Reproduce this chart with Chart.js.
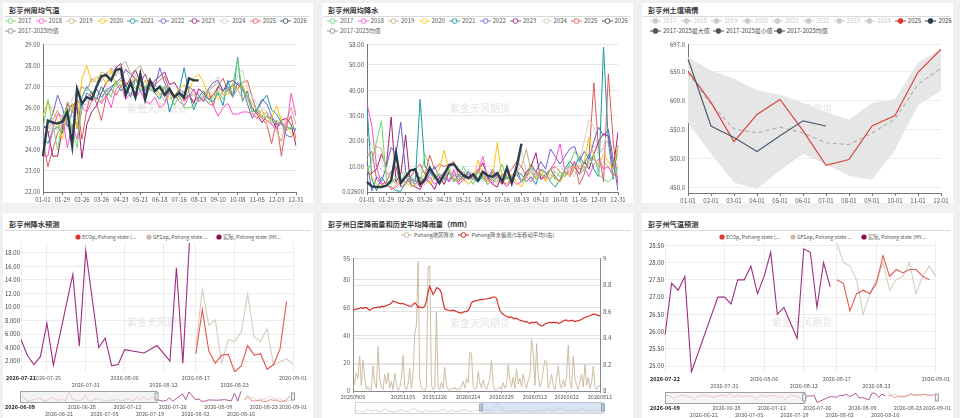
<!DOCTYPE html>
<html>
<head>
<meta charset="utf-8">
<script src="https://cdn.jsdelivr.net/npm/chart.js@4.4.1/dist/chart.umd.min.js"></script>
<style>
  body { margin: 0; width: 960px; height: 418px; background: #f0f0f0; position: relative; overflow: hidden;
         font-family: "Noto Sans CJK SC", "Noto Sans", sans-serif; }
  .panel { position: absolute; background: #fff; }
  .title { position: absolute; font-size: 7.2px; font-weight: bold; color: #333; white-space: nowrap; line-height: 9px; }
  .rule { position: absolute; height: 1px; background: #d9d9d9; }
  .lg { position: absolute; font-size: 6px; color: #555; white-space: nowrap; line-height: 8px; height: 8px; }
  .lg svg { position: absolute; left: 0; top: 0; }
  .lg span { position: absolute; top: 0; }
  canvas { position: absolute; }
</style>
</head>
<body>
<script>
'use strict';

// ---------- data ----------
var years = ['2017', '2018', '2019', '2020', '2021', '2022', '2023', '2024', '2025', '2026'];
var weekTicks = ['01-01', '01-29', '02-26', '03-26', '04-23', '05-21', '06-18', '07-16', '08-13', '09-10', '10-08', '11-05', '12-03', '12-31'];

// weekly mean temperature, 53 weeks
var t2017 = [25.0,26.4,25.2,24.0,25.5,26.0,25.0,24.1,26.2,26.5, 26.8,26.4,26.3,26.9,26.5,27.3,27.0,26.8,27.2,26.9, 27.3,27.0,27.2,26.8,26.9,27.0,26.7,26.1,26.6,26.0, 26.0,26.1,26.4,26.6,26.2,26.5,26.8,26.4,26.9,27.1, 28.3,26.8,26.5,25.8,26.0,25.5,25.6,25.3,25.4,25.2, 24.9,25.1,25.0];
var t2018 = [23.7,23.7,25.0,25.7,25.6,24.1,25.2,24.5,26.0,25.8, 26.3,26.5,26.2,26.6,26.0,26.9,27.1,26.4,26.7,26.5, 26.8,26.3,26.2,26.5,26.0,26.2,26.8,26.6,26.3,26.1, 26.5,26.9,26.3,26.5,26.2,26.1,25.6,26.0,26.2,25.7, 25.7,25.8,25.8,25.7,25.5,25.6,25.4,25.2,25.0,25.3, 24.9,26.7,25.6];
var t2019 = [24.6,25.0,25.4,25.9,25.2,26.3,25.8,26.5,27.0,26.8, 27.4,27.2,27.7,27.6,27.9,27.5,28.0,28.2,27.6,27.8, 28.0,27.5,27.2,26.9,26.7,26.3,26.9,26.6,26.4,26.8, 26.5,26.7,26.3,26.5,26.8,27.0,27.2,26.6,26.8,26.5, 26.9,26.4,26.6,26.2,25.9,25.6,25.8,25.2,24.9,24.4, 25.4,26.0,25.2];
var t2020 = [25.6,26.3,25.8,25.4,24.5,25.9,26.2,25.0,27.4,28.0, 27.2,27.4,27.6,27.1,27.8,27.0,27.3,26.8,27.2,27.4, 26.9,27.3,27.0,26.8,26.6,27.0,26.4,26.6,26.9,27.1, 26.8,27.4,27.6,27.2,26.5,26.7,26.4,26.8,26.6,27.0, 26.9,27.1,26.5,25.8,25.5,25.9,25.3,25.5,26.1,25.4, 25.2,24.8,24.5];
var t2021 = [24.6,24.3,24.9,25.1,24.8,25.6,26.2,25.0,26.5,27.0, 26.7,26.4,27.0,26.6,26.9,27.2,26.8,27.1,26.5,27.4, 26.8,27.0,26.9,26.7,26.4,27.0,25.8,26.5,26.8,27.9, 26.7,25.9,26.5,26.8,26.4,26.3,26.7,26.1,27.3,26.5, 28.4,26.3,26.8,25.8,25.9,26.3,26.6,25.9,25.7,25.3, 25.1,25.0,25.0];
var t2022 = [25.0,25.2,25.7,26.6,26.0,25.1,25.8,26.4,26.0,26.7, 26.5,26.9,26.5,26.8,27.0,27.2,27.4,27.8,27.6,27.4, 27.1,26.8,27.3,27.0,27.9,27.2,26.7,26.5,26.9,26.7, 27.0,26.8,26.6,26.3,26.9,27.2,27.3,26.8,27.0,26.5, 27.2,27.0,26.2,25.5,25.9,26.4,26.2,25.6,25.2,25.3, 24.7,24.6,25.0];
var t2023 = [25.2,24.9,23.7,23.7,25.0,26.2,25.8,26.0,23.6,25.2, 25.8,26.1,26.7,27.2,27.4,27.9,28.1,27.0,27.4,27.8, 27.2,27.6,27.0,27.3,27.5,27.7,27.1,27.2,26.8,26.4, 26.6,26.2,26.9,26.7,26.4,26.6,27.0,26.8,27.2,27.3, 27.1,26.9,26.5,26.0,25.7,25.3,25.6,25.5,25.0,25.4, 25.5,25.2,24.2];
var t2024 = [24.5,24.7,25.3,24.9,25.6,26.1,26.4,26.8,27.0,26.9, 27.3,27.5,27.2,27.7,27.6,28.0,27.5,27.9,27.2,27.6, 27.0,27.3,26.8,26.9,26.5,26.7,26.9,26.6,26.8,26.4, 26.9,26.5,26.7,26.6,26.9,27.0,27.5,26.8,27.0,26.7, 27.6,27.8,26.9,26.5,26.2,26.0,25.8,25.5,25.0,25.6, 25.3,25.7,25.9];
var t2025 = [24.4,23.2,24.0,24.8,25.1,25.9,26.1,26.3,24.5,25.9, 26.8,26.2,25.4,26.5,26.9,26.6,27.0,27.2,27.0,27.4, 27.1,26.9,27.3,27.1,27.3,27.5,26.8,26.5,26.8,26.3, 26.6,26.3,26.5,26.3,26.8,26.1,27.0,27.4,26.8,27.1, 26.9,27.2,27.3,26.5,25.8,25.5,25.2,24.3,25.4,23.7, 25.2,25.6,24.5];
var t2026 = [23.7,25.4,25.3,25.25,25.35,25.8,24.2,26.9,26.2,26.5, 26.4,27.0,27.5,27.55,27.3,27.8,27.85,26.6,27.2,26.5, 27.6,26.4,27.3,26.8,27.0,26.6,26.9,26.5,26.7,26.5, 27.4,27.3,27.3];
var tAvg  = [24.6,24.8,25.0,25.1,25.2,25.5,25.6,25.4,25.9,26.3, 26.5,26.6,26.7,26.9,27.0,27.2,27.3,27.2,27.2,27.3, 27.2,27.1,27.0,26.9,26.9,26.9,26.7,26.6,26.7,26.6, 26.6,26.6,26.6,26.5,26.6,26.6,26.9,26.7,26.9,26.7, 27.2,26.8,26.6,26.0,25.9,25.8,25.7,25.4,25.3,25.2, 25.1,25.2,25.0];

// weekly mean precipitation, 53 weeks
var p2017 = [8,12,20,28,5,3,6,4,8,3, 5,4,15,10,6,7,5,9,4,6, 10,6,3,8,5,7,4,6,11,5, 6,8,4,7,10,5,7,6,9,5, 8,6,11,16,13,8,12,15,7,5, 4,6,9];
var p2018 = [35,26,10,3,4,1,2,4,6,3, 5,2,4,6,3,5,8,4,9,3, 5,7,6,8,14,5,3,7,4,2, 5,3,4,6,4,8,5,6,9,12, 19,8,7,12,9,10,6,11,13,9, 10,7,6];
var p2019 = [15,13,18,17,8,6,3,5,4,6, 2,4,3,5,7,4,6,5,8,6, 4,7,5,9,6,3,5,4,7,6, 5,8,10,17,8,6,9,7,5,8, 6,9,10,8,7,9,11,13,10,12, 10,6,10];
var p2020 = [10,6,3,2,4,1,3,5,4,2, 3,5,7,3,6,9,16.5,8,5,4, 6,3,5,12.5,7,4,6,19.5,5,3, 7,4,2,6,8,5,9,4,7,5, 4,8,6,10,9,12,21.5,14,10,15, 12,9,18];
var p2021 = [33.5,5,0.5,6,3,2,0.5,0.3,4,6, 4,36.5,10,8,5,7,6,4,7,5, 6,8,5,4,6,3,5,7,4,6, 5,8,7,4,6,3,9,8,4,2, 5,9,12,10,14,11,15,9,6,57, 20,5,18.5];
var p2022 = [12,0.5,6,4,10,17.5,15,27.5,8,5, 3,6,4,7,10,6,5,8,4,7, 5,8,6,4,7,5,9,6,4,3, 5,7,4,6,10,8,12,9,17,14, 11,14,17,18,12,16,13,20,25.5,22, 24.5,13,0.5];
var p2023 = [7,7.5,9,15,10,29.5,4,7,22.5,3, 2,1,5,4,1,6,3,8,5,4, 7,6,5,8,11.5,6,3,2,7,5, 6,9,4,8,10,15.5,5,7,9,6, 4,8,6,10,7,12,9,15,20,23, 22,9,23.5];
var p2024 = [22,18,15,12,8,5,4,3,6,5, 8,4,6,9,5,7,4,10,6,3, 5,9,7,6,4,8,5,3,6,9, 4,7,16.5,8,5,6,9,7,5,10, 8,7,9,6,12,20,28.5,26,15,18, 25,9,15];
var p2025 = [14,16,5,3,4,8,10,2,3,6, 9,11,7,14.5,9,11,10,11,12,6, 8,5,7,9,6,4,8,5,3,7, 9,12,10,6,11,8,7,5,9,10, 8,6,9,12,3,7,14,43,16,4, 46.5,20,3];
var p2026 = [4.0,2.2,2.0,2.0,2.5,4.5,15.5,3.5,6.0,8.5, 9.0,3.0,5.0,9.5,6.5,3.5,7.0,10.5,11.0,8.5, 6.5,5.5,7.0,4.5,8.0,6.5,6.0,7.5,4.0,9.5, 3.5,10.0,19.0];
var pAvg  = [17,14,10,9,7,8,6,7,8,5, 5,9,7,8,6,7,7,7,6,5, 6,6,6,8,7,5,5,7,6,5, 7,7,7,8,7,7,7,6,9,8, 9,9,10,11,10,12,14,18,15,17, 20,10,11];
var precipTicks = [0.026, 10, 20, 30, 40, 50, 58];

// soil moisture, monthly
var monthLabels = ['01-01', '02-01', '03-01', '04-01', '05-01', '06-01', '07-01', '08-01', '09-01', '10-01', '11-01', '12-01'];
var soil2025 = [651, 597, 529, 576, 602, 548, 488, 498, 556, 574, 649, 689];
var soil2026 = [672, 556, 536, 512, 539, 565, 556];
var soilMax  = [675, 652, 638, 618, 610, 596, 580, 567, 596, 603, 666, 690];
var soilMin  = [562, 508, 458, 447, 479, 508, 490, 470, 463, 514, 592, 618];
var soilAvg  = [648, 594, 551, 544, 554, 544, 527, 524, 544, 568, 628, 656];
var soilTicks = [450, 500, 550, 600, 650, 697];

// rain forecast: day 0 = 2026-07-21
var rainActual = [5.2, 2.8, 1.5, 2.7, 7.6, 1.4, null, null, 14.8, 4.2, 18.3, null, 4.0, 5.4, 1.3, 1.5, 3.7, null, null, 3.2, null, 4.3, null, 2.0, 15.8, 1.7, 19.5];
var rainEco = [3.1, 9.6, 3.5, 1.7, 2.9, 3.0, 0.4, 1.3, 4.3, 2.9, 3.1, 0.8, 1.5, 3.8, 10.8];   // from day 27
var rainGfs = [4.2, 12.6, 7.3, 8.1, 1.7, 5.2, 4.9, 6.3, 11.9, 5.6, 4.9, 6.8, 1.4, 1.9, 2.4, 1.5]; // from day 27
var rainEarly = [14, 8, 3, 2, 4, 5, 7, 3, 2, 6, 8, 4, 3, 5, 2, 19, 6, 3, 2, 4, 12, 3, 2, 5, 6, 4, 3, 2, 4, 3, 5, 2, 3, 6, 4, 2, 9, 3, 10, 4, 6, 8]; // 2026-06-09 .. 07-20
var rainTickDays = [0, 4, 10, 16, 22, 27, 33, 42];
var rainTickText = ['2026-07-21', '2026-07-25', '2026-07-31', '2026-08-06', '2026-08-12', '2026-08-17', '2026-08-23', '2026-09-01'];
var rainTickRow = [0, 0, 1, 0, 1, 0, 1, 0];
var rainYTicks = [2, 4, 6, 8, 10, 12, 14, 16, 18];

// temperature forecast: day 0 = 2026-07-22
var tempActual = [25.9, 27.4, 27.2, 27.6, 24.83, null, null, null, 27.0, 27.0, 26.8, 27.5, 27.5, 27.9, 27.1, 27.6, 28.3, 26.5, 26.7, null, 25.8, 28.4, 28.3, 26.7, 28.0, 27.3];
var tempEco = [27.5, 27.4, 26.6, 27.1, 27.2, 27.1, 27.4, 28.2, 27.6, 27.8, 27.7, 27.8, 27.8, 27.6, 27.5];          // from day 26
var tempGfs = [28.58, 28.0, 27.9, 27.5, 26.5, 27.1, 27.5, 28.0, 27.2, 27.5, 27.6, 28.0, 27.1, 27.6, 27.9, 27.6];  // from day 26
var tempEarly = [27.6, 27.4, 27.0, 26.2, 27.2, 27.5, 27.6, 26.9, 27.1, 25.8, 27.0, 27.3, 27.4, 27.2, 27.1, 26.8, 27.2, 27.5, 27.6, 27.0, 28.2, 26.8, 27.3, 27.4, 27.0, 27.2, 27.3, 27.1, 26.0, 27.2, 27.4, 27.0, 27.3, 27.5, 27.2, 26.9, 27.4, 25.8, 27.1, 27.6, 27.3, 27.0, 26.5]; // 06-09 .. 07-21
var tempTickDays = [0, 9, 15, 21, 26, 32, 41];
var tempTickText = ['2026-07-22', '2026-07-31', '2026-08-06', '2026-08-12', '2026-08-17', '2026-08-23', '2026-09-01'];
var tempTickRow = [0, 1, 0, 1, 0, 1, 0];
var tempYTicks = [25, 25.5, 26, 26.5, 27, 27.5, 28, 28.5];

// slider overview: day 0 = 2026-06-09
var sliderTickDays = [0, 12, 19, 26, 33, 40, 47, 54, 61, 68, 75, 84];
var sliderTickText = ['2026-06-09', '2026-06-21', '2026-06-28', '2026-07-05', '2026-07-12', '2026-07-19', '2026-07-26', '2026-08-02', '2026-08-09', '2026-08-16', '2026-08-23', '2026-09-01'];
var sliderTickRow = [0, 1, 0, 1, 0, 1, 0, 1, 0, 1, 0, 0];

// daily rain (left) and 5y moving average deviation (right)
var dailyTickAt = [0, 30, 49, 69, 89, 109, 128, 148];
var dailyTickText = ['20250905', '20251105', '20251226', '20260214', '20260329', '20260512', '20260622', '20260811'];
var pahangRain = [2,6,13,9,25,4,22,10,1,3, 0.5,1,18,6,2,32,8,3,1,12, 5,13,2,7,1,13,4,0.5,2,9, 25.5,3,1,5,16,2,12,41,47,93, 8,2,1,0.5,3,89,90,4,1,2, 57,3,1,6,2,17,4,1,0.5,2, 1,3,0.5,2,1,4,7,2,9,6, 28,27,3,1,2,14,6,2,8,3, 1,5,9,22,4,1,0.5,2,3,1, 6,2,4,19,8,3,10,2,16,5, 9,3,12,6,2,8,11,37,27,4, 34,10,3,7,15,22,21,2,6,12, 4,1,9,18,5,2,8,3,11,33, 6,2,25,9,4,1,7,12,3,19, 4,10,2,6,18,3,1,4,3];
var pahangDev = [8.61,8.615,8.62,8.62,8.625,8.63,8.625,8.63,8.63,8.62, 8.61,8.62,8.625,8.63,8.63,8.635,8.63,8.64,8.635,8.64, 8.645,8.65,8.655,8.665,8.68,8.675,8.67,8.665,8.66,8.66, 8.66,8.655,8.65,8.645,8.64,8.64,8.65,8.665,8.655,8.63, 8.635,8.63,8.63,8.64,8.68,8.75,8.79,8.76,8.73,8.75, 8.78,8.775,8.765,8.74,8.67,8.62,8.615,8.61,8.61,8.605, 8.61,8.605,8.60,8.595,8.59,8.59,8.595,8.60,8.60,8.61, 8.63,8.665,8.675,8.68,8.68,8.685,8.69,8.69,8.69,8.695, 8.695,8.70,8.70,8.705,8.71,8.71,8.70,8.65,8.61,8.59, 8.58,8.57,8.565,8.56,8.555,8.56,8.55,8.545,8.55,8.54, 8.535,8.53,8.53,8.52,8.525,8.515,8.51,8.52,8.515,8.52, 8.52,8.505,8.50,8.49,8.495,8.505,8.51,8.515,8.52,8.515, 8.52,8.515,8.52,8.51,8.515,8.52,8.53,8.535,8.535,8.53, 8.53,8.535,8.53,8.525,8.53,8.53,8.535,8.54,8.55,8.555, 8.56,8.565,8.57,8.575,8.58,8.58,8.575,8.57,8.57];
var dailyLeftTicks = [0, 20, 40, 60, 80, 95];
var dailyRightTicks = [8, 8.2, 8.4, 8.6, 8.8, 9];
var rainOverview = [3,5,2,8,4,6,3,9,5,2,4,7,3,5,10,4,2,6,3,5,4,8,2,6,3,5,7,4,3,6, 5,8,4,12,20,6,3,4,5,3,6,4,3,5,7,4,9,5,8,12,6,4,7,5,9,6,4,8,5,6];

// ---------- look ----------
var yearColors = ['#72d86a', '#ff4fc8', '#c4ae86', '#ffc20e', '#1d97a3', '#6c5fcf', '#a0206e', '#d9d0c2', '#e05a5a', '#2b3d4f'];
var legendColors = ['#86e086', '#ff70d2', '#cbb992', '#ffcc40', '#3aa3b0', '#8076d8', '#a9428c', '#ddd4c6', '#e87070', '#55616d'];
var fcColors = { eco: '#e3574f', gfs: '#d8cbbd', act: '#9e2d80', ecoDot: '#d9372f', gfsDot: '#cdbba8', actDot: '#8a0b55' };
var WM = '紫金天风期货';

Chart.defaults.font.family = '"Noto Sans CJK SC", "Noto Sans", sans-serif';
Chart.defaults.font.size = 6;
Chart.defaults.color = '#555';
Chart.defaults.animation = false;
Chart.defaults.responsive = false;
Chart.defaults.plugins.legend.display = false;
Chart.defaults.plugins.tooltip.enabled = false;
Chart.defaults.elements.point.radius = 0;
Chart.defaults.elements.line.borderWidth = 1;
Chart.defaults.elements.line.tension = 0;

// ---------- helpers ----------
function el(tag, cls, css) {
    var e = document.createElement(tag);
    if (cls) e.className = cls;
    for (var k in css) e.style[k] = css[k];
    document.body.appendChild(e);
    return e;
}

function canvas(left, top, w, h) {
    var c = el('canvas', '', { left: left + 'px', top: top + 'px' });
    c.width = w;
    c.height = h;
    return c;
}

function legendItem(x, yc, text, color, kind, opt) {
    opt = opt || {};
    var d = el('div', 'lg', { left: x + 'px', top: (yc - 4) + 'px', fontSize: (opt.size || 6) + 'px' });
    var iw = kind === 'circle' ? 6 : 11;
    var svg = '<svg width="' + iw + '" height="8" viewBox="0 0 ' + iw + ' 8">';
    if (kind === 'circle') {
        svg += '<circle cx="3" cy="4" r="2.6" fill="' + color + '"/>';
    } else {
        svg += '<line x1="0" y1="4" x2="11" y2="4" stroke="' + color + '" stroke-width="1"/>' +
            '<circle cx="5.5" cy="4" r="2.4" fill="' + (kind === 'dot' ? color : '#fff') + '" stroke="' + color + '" stroke-width="1"/>';
    }
    svg += '</svg>';
    d.innerHTML = svg + '<span style="left:' + (iw + (opt.gap || 2)) + 'px;color:' + (opt.textColor || '#555') + '">' + text + '</span>';
}

function place(values, start, len) {   // put a series at its day offset
    var out = [];
    for (var i = 0; i < len; i++) {
        var k = i - start;
        out.push(k >= 0 && k < values.length ? values[k] : null);
    }
    return out;
}

function indexLabels(n) {
    var out = [];
    for (var i = 0; i < n; i++) out.push(i);
    return out;
}

function fixedTicks(list) {
    return function (s) { s.ticks = list.map(function (v) { return { value: v }; }); };
}

function dateTicks(days, texts, rows) {
    return function (v, i) {
        var k = days.indexOf(i);
        if (k < 0) return null;
        return rows[k] ? ['', texts[k]] : texts[k];
    };
}

function endsFont(size, last) {
    return function (c) {
        return { size: size, weight: (c.index === 0 || c.index === last) ? 'bold' : 'normal' };
    };
}

function endsColor(last) {
    return function (c) { return (c.index === 0 || c.index === last) ? '#222' : '#555'; };
}

var watermark = {
    id: 'watermark',
    beforeDatasetsDraw: function (chart, args, o) {
        if (!o.text) return;
        var ctx = chart.ctx;
        ctx.save();
        ctx.font = '10px "Noto Sans CJK SC"';
        ctx.fillStyle = '#e4e4e4';
        ctx.textAlign = 'center';
        ctx.textBaseline = 'middle';
        ctx.fillText(o.text, o.x, o.y);
        ctx.restore();
    }
};

var slider = {
    id: 'slider',
    beforeDatasetsDraw: function (chart, args, o) {
        var a = chart.chartArea, x = chart.scales.x, ctx = chart.ctx;
        ctx.save();
        if (o.frame) {
            ctx.strokeStyle = '#d6d6d6';
            ctx.strokeRect(a.left + 0.5, a.top + 0.5, a.width, a.height);
        }
        if (o.fill) {
            var f0 = x.getPixelForValue(o.from), f1 = x.getPixelForValue(o.to);
            ctx.fillStyle = o.fill;
            ctx.fillRect(f0, a.top, f1 - f0, a.height);
        }
        if (o.box) {
            var b0 = x.getPixelForValue(o.box[0]), b1 = x.getPixelForValue(o.box[1]);
            ctx.fillStyle = 'rgba(220,220,220,0.3)';
            ctx.fillRect(b0, a.top, b1 - b0, a.height);
            ctx.strokeStyle = '#a0a0a0';
            ctx.strokeRect(Math.round(b0) + 0.5, a.top + 0.5, b1 - b0, a.height);
        }
        ctx.restore();
    },
    afterDatasetsDraw: function (chart, args, o) {
        var a = chart.chartArea, x = chart.scales.x, ctx = chart.ctx;
        ctx.save();
        (o.handles || []).forEach(function (v) {
            var px = x.getPixelForValue(v), cy = (a.top + a.bottom) / 2;
            ctx.fillStyle = o.handleFill || '#f2f2f2';
            ctx.strokeStyle = o.handleStroke || '#999';
            ctx.fillRect(px - 1.5, cy - 3.5, 3, 7);
            ctx.strokeRect(px - 1.5, cy - 3.5, 3, 7);
        });
        ctx.restore();
    }
};

// ---------- panels, titles, legends ----------
var panels = [
    { x: 3, y: 3, w: 310, h: 200, title: '彭亨州周均气温' },
    { x: 322, y: 3, w: 311, h: 200, title: '彭亨州周均降水' },
    { x: 642, y: 3, w: 311, h: 200, title: '彭亨州土壤墒情' },
    { x: 3, y: 213, w: 310, h: 205, title: '彭亨州降水预测' },
    { x: 322, y: 213, w: 311, h: 205, title: '彭亨州日度降雨量和历史平均降雨量（mm）' },
    { x: 642, y: 213, w: 311, h: 205, title: '彭亨州气温预测' }
];
panels.forEach(function (p) {
    el('div', 'panel', { left: p.x + 'px', top: p.y + 'px', width: p.w + 'px', height: p.h + 'px' });
    el('div', 'title', { left: (p.x + 6) + 'px', top: (p.y + (p.y < 100 ? 2.5 : 6.5)) + 'px' }).textContent = p.title;
    el('div', 'rule', { left: (p.x + 1) + 'px', top: (p.y + (p.y < 100 ? 13 : 17)) + 'px', width: (p.w - 4) + 'px' });
});

years.forEach(function (y, k) {
    legendItem(5 + 30.6 * k, 21, y, legendColors[k], 'ring');
    legendItem(327 + 30.5 * k, 21, y, legendColors[k], 'ring');
    var soilCol = y === '2025' ? '#d9372f' : (y === '2026' ? '#2c3e50' : '#cccccc');
    legendItem(650 + 30.6 * k, 21, y, soilCol, 'dot', { textColor: k < 8 ? '#c8c8c8' : '#444' });
});
legendItem(5, 31, '2017-2025均值', '#999', 'ring');
legendItem(327, 31, '2017-2025均值', '#999', 'ring');
['2017-2025最大值', '2017-2025最小值', '2017-2025均值'].forEach(function (t, k) {
    legendItem([650, 713, 774][k], 31, t, '#555', 'dot', { textColor: '#444' });
});

var fcNames = ['ECOp, Pahang state (...', 'GFSop, Pahang state ...', '实际, Pahang state (MY...'];
var fcDots = [fcColors.ecoDot, fcColors.gfsDot, fcColors.actDot];
fcNames.forEach(function (t, k) {
    legendItem([74.5, 145.5, 215.5][k], 237, t, fcDots[k], 'circle', { size: 5.2, gap: 1.5 });
    legendItem([718.5, 789.5, 860.5][k], 237, t, fcDots[k], 'circle', { size: 5.2, gap: 1.5 });
});
legendItem(400.5, 235, 'Pahang地区降水', '#c9b49a', 'ring', { size: 5.4, gap: 2.5 });
legendItem(457.5, 235, 'Pahang降水偏离(5年移动平均)(右)', '#d6322a', 'ring', { size: 5.4, gap: 3 });

// ---------- chart 1: weekly temperature ----------
function yearSets(series, avg, cur) {
    var sets = series.map(function (d, k) {
        return { data: d, borderColor: yearColors[k], borderWidth: 1, order: 2 };
    });
    sets.push({ data: avg, borderColor: '#a3a3a3', borderDash: [2, 2], borderWidth: 0.9, order: 1 });
    sets.push({ data: cur, borderColor: '#2b3d4d', borderWidth: 2.4, order: 0 });
    return sets;
}

function weekAxis() {
    return {
        grid: { drawOnChartArea: false, tickLength: 3, color: '#777' },
        border: { color: '#777' },
        ticks: {
            autoSkip: false, maxRotation: 0, padding: 1,
            callback: function (v, i) { return i % 4 === 0 ? weekTicks[i / 4] : null; }
        },
        afterFit: function (s) { s.height = 11; }
    };
}

new Chart(canvas(3, 38, 310, 165), {
    type: 'line',
    data: {
        labels: indexLabels(53),
        datasets: yearSets([t2017, t2018, t2019, t2020, t2021, t2022, t2023, t2024, t2025], tAvg, t2026)
    },
    options: {
        layout: { padding: { top: 5, right: 17, left: 0, bottom: 0 } },
        scales: {
            x: weekAxis(),
            y: {
                min: 22, max: 29,
                ticks: { stepSize: 1, padding: 3, callback: function (v) { return v.toFixed(2); } },
                grid: { color: '#e6e6e6', drawTicks: false },
                border: { color: '#777' },
                afterFit: function (s) { s.width = 40; }
            }
        },
        plugins: { watermark: { text: WM, x: 154, y: 70 } }
    },
    plugins: [watermark]
});

// ---------- chart 2: weekly precipitation ----------
new Chart(canvas(323, 38, 310, 165), {
    type: 'line',
    data: {
        labels: indexLabels(53),
        datasets: yearSets([p2017, p2018, p2019, p2020, p2021, p2022, p2023, p2024, p2025], pAvg, p2026)
    },
    options: {
        layout: { padding: { top: 5, right: 15, left: 0, bottom: 0 } },
        scales: {
            x: weekAxis(),
            y: {
                min: 0.026, max: 58,
                afterBuildTicks: fixedTicks(precipTicks),
                ticks: { padding: 3, callback: function (v) { return v < 1 ? v.toFixed(5) : v.toFixed(2); } },
                grid: { color: '#e6e6e6', drawTicks: false },
                border: { color: '#777' },
                afterFit: function (s) { s.width = 44; }
            }
        },
        plugins: { watermark: { text: WM, x: 157, y: 70 } }
    },
    plugins: [watermark]
});

// ---------- chart 3: soil moisture ----------
new Chart(canvas(643, 38, 310, 165), {
    type: 'line',
    data: {
        labels: monthLabels,
        datasets: [
            { data: soil2026, borderColor: '#4c5f72', borderWidth: 1.2, order: 0 },
            { data: soil2025, borderColor: '#d9463e', borderWidth: 1.2, order: 1 },
            { data: soilAvg, borderColor: '#b4b4b4', borderDash: [4, 3], borderWidth: 1.2, order: 2 },
            { data: soilMax, borderWidth: 0, borderColor: 'rgba(0,0,0,0)', backgroundColor: '#e6e6e6', fill: '+1', order: 3 },
            { data: soilMin, borderWidth: 0, borderColor: 'rgba(0,0,0,0)', order: 4 }
        ]
    },
    options: {
        layout: { padding: { top: 5, right: 12, left: 0, bottom: 0 } },
        scales: {
            x: {
                grid: { drawOnChartArea: false, tickLength: 3, color: '#777' },
                border: { color: '#777' },
                ticks: { autoSkip: false, maxRotation: 0, padding: 1 },
                afterFit: function (s) { s.height = 10; }
            },
            y: {
                min: 440, max: 697,
                afterBuildTicks: fixedTicks(soilTicks),
                ticks: { padding: 3, callback: function (v) { return v.toFixed(1); } },
                grid: { color: '#ededed', drawTicks: false },
                border: { color: '#777' },
                afterFit: function (s) { s.width = 45; }
            }
        },
        plugins: { watermark: { text: WM, x: 159, y: 71 } }
    },
    plugins: [watermark]
});

// ---------- forecast charts (rain / temperature) ----------
function forecastChart(cv, o) {
    var n = o.len;
    return new Chart(cv, {
        type: 'line',
        data: {
            labels: indexLabels(n),
            datasets: [
                { data: place(o.act, 0, n), borderColor: fcColors.act, borderWidth: 1.1, spanGaps: true, order: 0 },
                { data: place(o.eco, o.fcStart, n), borderColor: fcColors.eco, borderWidth: 1.1, order: 1 },
                { data: place(o.gfs, o.fcStart, n), borderColor: fcColors.gfs, borderWidth: 1.1, order: 2 }
            ]
        },
        options: {
            layout: { padding: { top: o.padTop, right: o.padRight, left: 0, bottom: 0 } },
            scales: {
                x: {
                    grid: { color: '#ececec', drawTicks: false },
                    border: { display: false },
                    ticks: {
                        autoSkip: false, maxRotation: 0, padding: 3,
                        font: endsFont(5.5, n - 1), color: endsColor(n - 1),
                        callback: dateTicks(o.tickDays, o.tickText, o.tickRow)
                    },
                    afterFit: function (s) { s.height = o.xh; }
                },
                y: {
                    min: o.min, max: o.max,
                    afterBuildTicks: fixedTicks(o.yTicks),
                    ticks: { padding: 1, color: '#444', callback: o.fmt },
                    grid: { color: '#ececec', drawTicks: false },
                    border: { display: false },
                    afterFit: function (s) { s.width = o.yw; }
                }
            },
            plugins: { watermark: { text: WM, x: o.wmX, y: 84 } }
        },
        plugins: [watermark]
    });
}

function overviewChart(cv, o) {
    var n = 85;
    return new Chart(cv, {
        type: 'line',
        data: {
            labels: indexLabels(n),
            datasets: [
                { data: place(o.early, 0, n), borderColor: '#e9bddf', borderWidth: 0.8, spanGaps: true },
                { data: place(o.act, o.actStart, n), borderColor: fcColors.act, borderWidth: 0.8, spanGaps: true },
                { data: place(o.eco, o.actStart + o.fcStart, n), borderColor: '#e8766e', borderWidth: 0.8 },
                { data: place(o.gfs, o.actStart + o.fcStart, n), borderColor: fcColors.gfs, borderWidth: 0.8 }
            ]
        },
        options: {
            layout: { padding: { top: o.padTop, right: o.padRight, left: o.padLeft, bottom: 0 } },
            scales: {
                x: {
                    grid: { display: false, drawTicks: false },
                    border: { display: false },
                    ticks: {
                        autoSkip: false, maxRotation: 0, padding: 2,
                        font: endsFont(5.5, n - 1), color: endsColor(n - 1),
                        callback: dateTicks(sliderTickDays, sliderTickText, sliderTickRow)
                    },
                    afterFit: function (s) { s.height = o.xh; }
                },
                y: { display: false, min: o.min, max: o.max }
            },
            plugins: { slider: { box: [0, o.actStart], handles: [o.actStart, 84] } }
        },
        plugins: [slider]
    });
}

var rainFmt = function (v) { return v >= 10 ? v.toFixed(2) : v.toFixed(3); };
var tempFmt = function (v) { return v.toFixed(2); };

forecastChart(canvas(3, 238, 310, 152), {
    len: 43, act: rainActual, eco: rainEco, gfs: rainGfs, fcStart: 27,
    tickDays: rainTickDays, tickText: rainTickText, tickRow: rainTickRow,
    min: 0.4, max: 19.5, yTicks: rainYTicks, fmt: rainFmt,
    padTop: 4, padRight: 20, xh: 18, yw: 16, wmX: 154
});
overviewChart(canvas(3, 388, 310, 30), {
    early: rainEarly, act: rainActual, eco: rainEco, gfs: rainGfs, actStart: 42, fcStart: 27,
    min: 0, max: 20, padTop: 3, padLeft: 17, padRight: 20, xh: 16
});

forecastChart(canvas(643, 238, 310, 152), {
    len: 42, act: tempActual, eco: tempEco, gfs: tempGfs, fcStart: 26,
    tickDays: tempTickDays, tickText: tempTickText, tickRow: tempTickRow,
    min: 24.8, max: 28.58, yTicks: tempYTicks, fmt: tempFmt,
    padTop: 3, padRight: 12, xh: 17, yw: 22, wmX: 159
});
overviewChart(canvas(643, 388, 310, 30), {
    early: tempEarly, act: tempActual, eco: tempEco, gfs: tempGfs, actStart: 43, fcStart: 26,
    min: 24.6, max: 28.8, padTop: 4, padLeft: 22, padRight: 14, xh: 15
});

// ---------- chart 5: daily rain and moving average ----------
new Chart(canvas(323, 252, 310, 149), {
    type: 'line',
    data: {
        labels: indexLabels(pahangRain.length),
        datasets: [
            { data: pahangDev, yAxisID: 'y1', borderColor: '#d6322a', borderWidth: 1.2, order: 0 },
            { data: pahangRain, yAxisID: 'y', borderColor: '#c9b59b', borderWidth: 0.9, order: 1 }
        ]
    },
    options: {
        layout: { padding: { top: 5, right: 0, left: 0, bottom: 0 } },
        scales: {
            x: {
                grid: { drawOnChartArea: false, tickLength: 2, color: '#888' },
                border: { color: '#888' },
                ticks: {
                    autoSkip: false, maxRotation: 0, padding: 1, font: { size: 5.5 },
                    callback: function (v, i) {
                        var k = dailyTickAt.indexOf(i);
                        return k < 0 ? null : dailyTickText[k];
                    }
                },
                afterFit: function (s) { s.height = 10; }
            },
            y: {
                position: 'left', min: 0, max: 95,
                afterBuildTicks: fixedTicks(dailyLeftTicks),
                ticks: { padding: 3 },
                grid: { color: '#e2e2e2', drawTicks: false },
                border: { color: '#888' },
                afterFit: function (s) { s.width = 30; }
            },
            y1: {
                position: 'right', min: 8, max: 9,
                afterBuildTicks: fixedTicks(dailyRightTicks),
                ticks: { padding: 3, callback: function (v) { return String(Number(v.toFixed(1))); } },
                grid: { color: '#e2e2e2', drawTicks: false },
                border: { color: '#888' },
                afterFit: function (s) { s.width = 33; }
            }
        },
        plugins: { watermark: { text: WM, x: 157, y: 71 } }
    },
    plugins: [watermark]
});

new Chart(canvas(323, 400, 310, 16), {
    type: 'line',
    data: {
        labels: indexLabels(rainOverview.length),
        datasets: [{ data: rainOverview, borderColor: '#c3c9d4', borderWidth: 0.7 }]
    },
    options: {
        layout: { padding: { top: 2, right: 30, left: 32, bottom: 3 } },
        scales: {
            x: { display: false },
            y: { display: false, min: 0, max: 24 }
        },
        plugins: {
            slider: {
                frame: true, fill: 'rgba(141,168,212,0.32)', from: 30, to: 59,
                handles: [30, 59], handleFill: '#b9c6db', handleStroke: '#8fa3c4'
            }
        }
    },
    plugins: [slider]
});
</script>
</body>
</html>
